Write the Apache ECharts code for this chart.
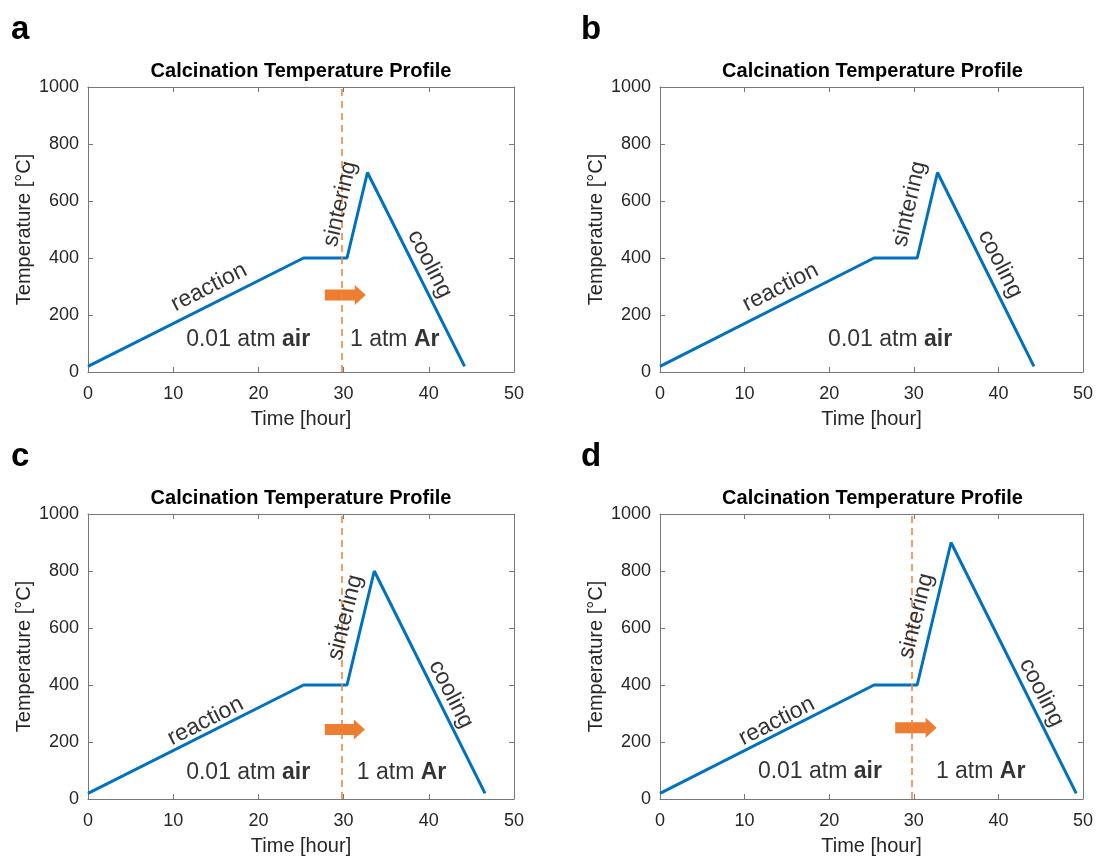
<!DOCTYPE html>
<html><head><meta charset="utf-8">
<script src="https://cdn.jsdelivr.net/npm/echarts@6/dist/echarts.min.js"></script>
<style>html,body{margin:0;padding:0;background:#fff}#c{width:1096px;height:857px}</style>
</head><body><div id="c"></div>
<script>
// ---- data ----
const xTicks = [0, 10, 20, 30, 40, 50];
const yTicks = [0, 200, 400, 600, 800, 1000];
const panelLetters = ['a', 'b', 'c', 'd'];
const chartTitle = 'Calcination Temperature Profile';
const xName = 'Time [hour]';
const yName = 'Temperature [°C]';

const timeA = [0, 25.3, 30.4, 32.8, 44.2];
const tempA = [20, 400, 400, 700, 20];
const timeB = [0, 25.3, 30.4, 32.8, 44.2];
const tempB = [20, 400, 400, 700, 20];
const timeC = [0, 25.3, 30.4, 33.6, 46.6];
const tempC = [20, 400, 400, 800, 20];
const timeD = [0, 25.3, 30.4, 34.4, 49.2];
const tempD = [20, 400, 400, 900, 20];

// atmosphere switch time (null = no switch)
const switchTimes = [29.8, null, 29.8, 29.8];
// arrows: [startTime, endTime, temperature]
const arrows = [[27.8, 32.6, 270], null, [27.8, 32.5, 244], [27.8, 32.7, 250]];

// text annotations per panel: [text, time, temp, angle]
const notesA = [['reaction', 14.2, 297, 27], ['sintering', 29.6, 590, 77], ['cooling', 40.1, 379, -63],
                ['0.01 atm {b|air}', 18.8, 112, 0], ['1 atm {b|Ar}', 36.0, 112, 0]];
const notesB = [['reaction', 14.25, 297, 27], ['sintering', 29.5, 590, 77], ['cooling', 40.2, 379, -63],
                ['0.01 atm {b|air}', 27.2, 112, 0]];
const notesC = [['reaction', 13.8, 273, 27], ['sintering', 30.2, 637, 76], ['cooling', 42.6, 367, -63],
                ['0.01 atm {b|air}', 18.8, 91, 0], ['1 atm {b|Ar}', 36.8, 91, 0]];
const notesD = [['reaction', 13.8, 273, 27], ['sintering', 30.3, 642, 76], ['cooling', 45.1, 373, -63],
                ['0.01 atm {b|air}', 18.9, 97, 0], ['1 atm {b|Ar}', 37.9, 97, 0]];

// ---- build ----
const times = [timeA, timeB, timeC, timeD];
const temps = [tempA, tempB, tempC, tempD];
const notes = [notesA, notesB, notesC, notesD];

const FONT = "'Liberation Sans', Arial, Helvetica, sans-serif";
const AX = '#777777';
const grids = [
  {left: 88, top: 87, width: 426, height: 285},
  {left: 660, top: 87, width: 425, height: 285},
  {left: 88, top: 514, width: 426, height: 285},
  {left: 660, top: 514, width: 425, height: 285}
];

const xAxes = [], yAxes = [], series = [], titles = [];
const xMin = xTicks[0], xMax = xTicks[xTicks.length - 1], xInt = xTicks[1] - xTicks[0];
const yMin = yTicks[0], yMax = yTicks[yTicks.length - 1], yInt = yTicks[1] - yTicks[0];

grids.forEach((g, i) => {
  const baseX = {gridIndex: i, type: 'value', min: xMin, max: xMax, interval: xInt,
    splitLine: {show: false},
    axisLine: {show: true, onZero: false, lineStyle: {color: AX, width: 1}},
    axisTick: {show: true, inside: true, length: 5, lineStyle: {color: AX}}};
  const baseY = {gridIndex: i, type: 'value', min: yMin, max: yMax, interval: yInt,
    splitLine: {show: false},
    axisLine: {show: true, onZero: false, lineStyle: {color: AX, width: 1}},
    axisTick: {show: true, inside: true, length: 5, lineStyle: {color: AX}}};
  xAxes.push(Object.assign({}, baseX, {position: 'bottom',
    name: xName, nameLocation: 'middle', nameGap: 37,
    nameTextStyle: {fontFamily: FONT, fontSize: 20, color: '#262626'},
    axisLabel: {fontFamily: FONT, fontSize: 18, color: '#262626', margin: 13,
      formatter: v => String(v)}}));
  xAxes.push(Object.assign({}, baseX, {position: 'top', axisLabel: {show: false}}));
  yAxes.push(Object.assign({}, baseY, {position: 'left',
    name: yName, nameLocation: 'middle', nameGap: 54,
    nameTextStyle: {fontFamily: FONT, fontSize: 20, color: '#262626'},
    axisLabel: {fontFamily: FONT, fontSize: 18, color: '#262626', margin: 9,
      formatter: v => String(v)}}));
  yAxes.push(Object.assign({}, baseY, {position: 'right', axisLabel: {show: false}}));

  const xi = i * 2, yi = i * 2;
  const lineSeries = {
    type: 'line', xAxisIndex: xi, yAxisIndex: yi, silent: true, animation: false,
    showSymbol: false, symbol: 'none', z: 3,
    lineStyle: {color: '#0072BD', width: 3},
    data: times[i].map((t, k) => [t, temps[i][k]])
  };
  if (switchTimes[i] !== null) {
    lineSeries.markLine = {
      silent: true, animation: false, symbol: ['none', 'none'], label: {show: false},
      lineStyle: {type: [7, 5], color: '#F0883E', width: 1.6},
      data: [{xAxis: switchTimes[i]}]
    };
  }
  series.push(lineSeries);

  if (arrows[i]) {
    series.push({
      type: 'custom', xAxisIndex: xi, yAxisIndex: yi, silent: true, animation: false, z: 4,
      encode: {x: [0, 1], y: 2},
      data: [arrows[i]],
      renderItem: function (params, api) {
        const p0 = api.coord([api.value(0), api.value(2)]);
        const p1 = api.coord([api.value(1), api.value(2)]);
        const hl = 11, sh = 5.5, hh = 10, xs = p1[0] - hl, y = p0[1];
        return {type: 'polygon', shape: {points: [
          [p0[0], y - sh], [xs, y - sh], [xs, y - hh], [p1[0], y], [xs, y + hh], [xs, y + sh], [p0[0], y + sh]
        ]}, style: {fill: '#ED7D31'}};
      }
    });
  }

  series.push({
    type: 'scatter', xAxisIndex: xi, yAxisIndex: yi, silent: true, animation: false,
    symbolSize: 0, z: 5,
    label: {show: true, position: 'inside', align: 'center', verticalAlign: 'middle',
      fontFamily: FONT, fontSize: 23, color: '#000', textBorderWidth: 0,
      rich: {b: {fontFamily: FONT, fontSize: 23, fontWeight: 'bold', color: '#000'}}},
    data: notes[i].map(n => ({value: [n[1], n[2]], label: {formatter: n[0], rotate: n[3]}}))
  });

  titles.push({text: chartTitle, left: g.left + g.width / 2, top: g.top - 26, textAlign: 'center', padding: 0,
    textStyle: {fontFamily: FONT, fontSize: 20, fontWeight: 'bold', color: '#000'}});
  titles.push({text: panelLetters[i], left: (i % 2 === 0) ? 11 : 581, top: g.top - 74, padding: 0,
    textStyle: {fontFamily: FONT, fontSize: 33, fontWeight: 'bold', color: '#000'}});
});

const chart = echarts.init(document.getElementById('c'), null, {renderer: 'canvas'});
chart.setOption({
  animation: false,
  backgroundColor: '#ffffff',
  title: titles,
  grid: grids,
  xAxis: xAxes,
  yAxis: yAxes,
  series: series
});
</script>
</body></html>
